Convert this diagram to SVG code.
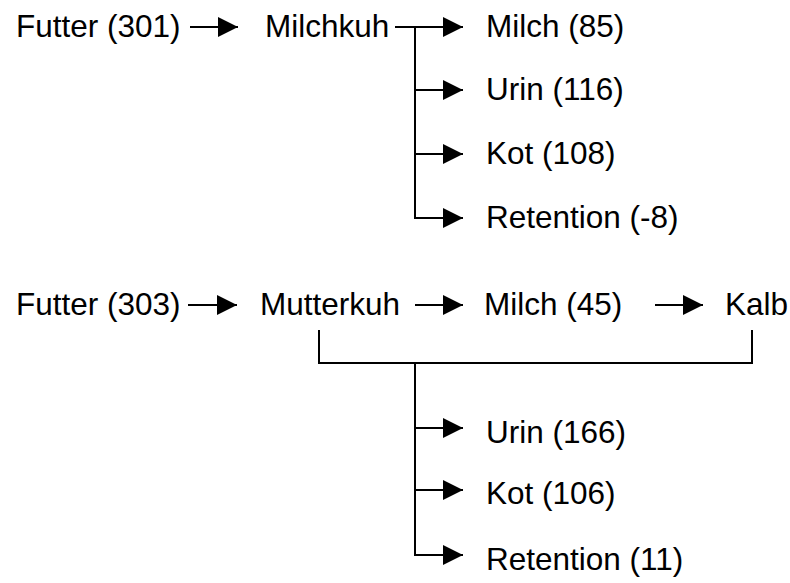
<svg xmlns="http://www.w3.org/2000/svg" width="790" height="583" viewBox="0 0 790 583">
<style>
text{font-family:"Liberation Sans",Arial,sans-serif;font-size:31.5px;fill:#000}
.ln{stroke:#000;stroke-width:2;fill:none}
</style>
<defs>
<marker id="ah" markerWidth="20" markerHeight="20" refX="20" refY="10" orient="auto" markerUnits="userSpaceOnUse" viewBox="0 0 20 20">
<path d="M0,0 L20,10 L0,20 Z" fill="#000"/>
</marker>
</defs>
<rect width="790" height="583" fill="#fff"/>
<g id="connectors">
<path class="ln" d="M190,27 H238" marker-end="url(#ah)"/>
<path class="ln" d="M395,27 H463" marker-end="url(#ah)"/>
<path class="ln" d="M415,27 V218"/>
<path class="ln" d="M415,90 H463" marker-end="url(#ah)"/>
<path class="ln" d="M415,154 H463" marker-end="url(#ah)"/>
<path class="ln" d="M414,218 H463" marker-end="url(#ah)"/>
<path class="ln" d="M188,305 H237" marker-end="url(#ah)"/>
<path class="ln" d="M415,305 H463" marker-end="url(#ah)"/>
<path class="ln" d="M655,305 H703" marker-end="url(#ah)"/>
<path class="ln" d="M319,330 V363 H752 V330"/>
<path class="ln" d="M415,363 V555"/>
<path class="ln" d="M415,428 H463" marker-end="url(#ah)"/>
<path class="ln" d="M415,490 H463" marker-end="url(#ah)"/>
<path class="ln" d="M414,555 H463" marker-end="url(#ah)"/>
</g>
<g id="futter1"><text x="16" y="37">Futter (301)</text></g>
<g id="milchkuh"><text x="265" y="37">Milchkuh</text></g>
<g id="milch85"><text x="486" y="37">Milch (85)</text></g>
<g id="urin116"><text x="486" y="100">Urin (116)</text></g>
<g id="kot108"><text x="486" y="164">Kot (108)</text></g>
<g id="retention1"><text x="486" y="228">Retention (-8)</text></g>
<g id="futter2"><text x="16" y="315">Futter (303)</text></g>
<g id="mutterkuh"><text x="260" y="315">Mutterkuh</text></g>
<g id="milch45"><text x="484" y="315">Milch (45)</text></g>
<g id="kalb"><text x="725" y="315">Kalb</text></g>
<g id="urin166"><text x="486" y="443">Urin (166)</text></g>
<g id="kot106"><text x="486" y="504">Kot (106)</text></g>
<g id="retention2"><text x="486" y="570">Retention (11)</text></g>
</svg>
